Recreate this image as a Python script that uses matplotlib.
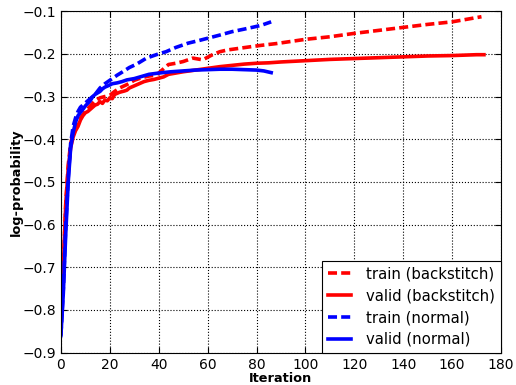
import numpy as np
import matplotlib
matplotlib.use("Agg")
import matplotlib.pyplot as plt

# train (backstitch)
bs_train_it = [0, 1, 2, 3, 4, 5, 6, 8, 10, 12, 14, 16, 18, 20, 22, 24, 27, 30, 33, 36, 39, 42, 44,
               47, 50, 54, 58, 62, 65, 68, 73, 78, 82, 88, 100, 110, 120, 130, 140, 150, 160, 172]
bs_train = [-0.78, -0.70, -0.55, -0.46, -0.41, -0.385, -0.37, -0.35, -0.335, -0.322, -0.31, -0.303,
            -0.30, -0.297, -0.288, -0.28, -0.272, -0.262, -0.256, -0.252, -0.25, -0.235, -0.225,
            -0.222, -0.218, -0.21, -0.214, -0.202, -0.195, -0.191, -0.187, -0.183, -0.18, -0.176,
            -0.166, -0.16, -0.152, -0.145, -0.138, -0.131, -0.125, -0.113]

# valid (backstitch)
bs_valid_it = [0, 1, 2, 3, 4, 5, 6, 7, 8, 9, 10, 11, 12, 13, 14, 15, 16, 17, 18, 19, 20, 21, 22,
               24, 26, 27, 28, 30, 32, 34, 36, 38, 40, 42, 44, 46, 48, 50, 55, 60, 65, 70, 75, 80,
               85, 90, 100, 110, 120, 130, 140, 150, 160, 170, 173]
bs_valid = [-0.78, -0.70, -0.55, -0.47, -0.42, -0.395, -0.38, -0.37, -0.355, -0.345, -0.338, -0.335,
            -0.33, -0.325, -0.32, -0.318, -0.312, -0.316, -0.308, -0.31, -0.303, -0.305, -0.295,
            -0.29, -0.287, -0.285, -0.28, -0.275, -0.27, -0.265, -0.262, -0.26, -0.257, -0.254,
            -0.248, -0.246, -0.244, -0.242, -0.238, -0.234, -0.23, -0.227, -0.224, -0.222, -0.221,
            -0.219, -0.216, -0.213, -0.211, -0.209, -0.207, -0.205, -0.204, -0.202, -0.202]

# train (normal)
nm_train_it = [0, 1, 2, 3, 4, 5, 6, 7, 8, 10, 12, 14, 16, 18, 20, 23, 25, 28, 31, 35, 40, 43, 47,
               52, 57, 61, 65, 70, 75, 79, 82, 86]
nm_train = [-0.86, -0.75, -0.60, -0.49, -0.41, -0.37, -0.35, -0.335, -0.325, -0.315, -0.305, -0.295,
            -0.28, -0.27, -0.262, -0.25, -0.243, -0.232, -0.224, -0.21, -0.20, -0.195, -0.185,
            -0.175, -0.168, -0.162, -0.156, -0.148, -0.142, -0.137, -0.133, -0.125]

# valid (normal)
nm_valid_it = [0, 1, 2, 3, 4, 5, 6, 7, 8, 9, 10, 12, 13, 14, 16, 17, 18, 20, 21, 23, 25, 27, 30,
               33, 36, 40, 45, 50, 55, 60, 65, 70, 75, 80, 83, 86]
nm_valid = [-0.86, -0.76, -0.62, -0.50, -0.42, -0.385, -0.36, -0.345, -0.337, -0.33, -0.322, -0.31,
            -0.30, -0.295, -0.288, -0.282, -0.278, -0.273, -0.27, -0.268, -0.265, -0.261, -0.258,
            -0.253, -0.248, -0.245, -0.242, -0.24, -0.238, -0.237, -0.236, -0.236, -0.237,
            -0.238, -0.24, -0.244]

plt.rcParams['font.family'] = 'DejaVu Sans'
plt.rcParams['font.size'] = 10
plt.rcParams['xtick.direction'] = 'in'
plt.rcParams['ytick.direction'] = 'in'

fig = plt.figure(figsize=(5.16, 3.85), dpi=100)
ax = fig.add_axes([0.118, 0.084, 0.853, 0.887])

lw = 2.6
dash = (2.5, 1.15)
ax.plot(bs_train_it, bs_train, color='r', ls='--', dashes=dash, lw=lw, label='train (backstitch)')
ax.plot(bs_valid_it, bs_valid, color='r', ls='-', lw=lw, label='valid (backstitch)')
ax.plot(nm_train_it, nm_train, color='b', ls='--', dashes=dash, lw=lw, label='train (normal)')
ax.plot(nm_valid_it, nm_valid, color='b', ls='-', lw=lw, label='valid (normal)')

ax.set_xlim(0, 180)
ax.set_ylim(-0.9, -0.1)
ax.set_xticks(np.arange(0, 181, 20))
ax.set_yticks(np.arange(-0.9, -0.09, 0.1))
ax.grid(True, color='k', linestyle=':', linewidth=0.8)
ax.tick_params(top=True, right=True, length=4)
ax.set_xlabel('Iteration', fontweight='bold', fontsize=9.3, labelpad=0)
ax.set_ylabel('log-probability', fontweight='bold', fontsize=9.3, labelpad=0)

leg = ax.legend(loc='lower right', fancybox=False, framealpha=1, edgecolor='k',
                borderaxespad=0, handlelength=1.6, handletextpad=1.0, fontsize=10.7,
                labelspacing=0.45)
leg.get_frame().set_linewidth(0.8)

fig.savefig('out.png', dpi=100)
